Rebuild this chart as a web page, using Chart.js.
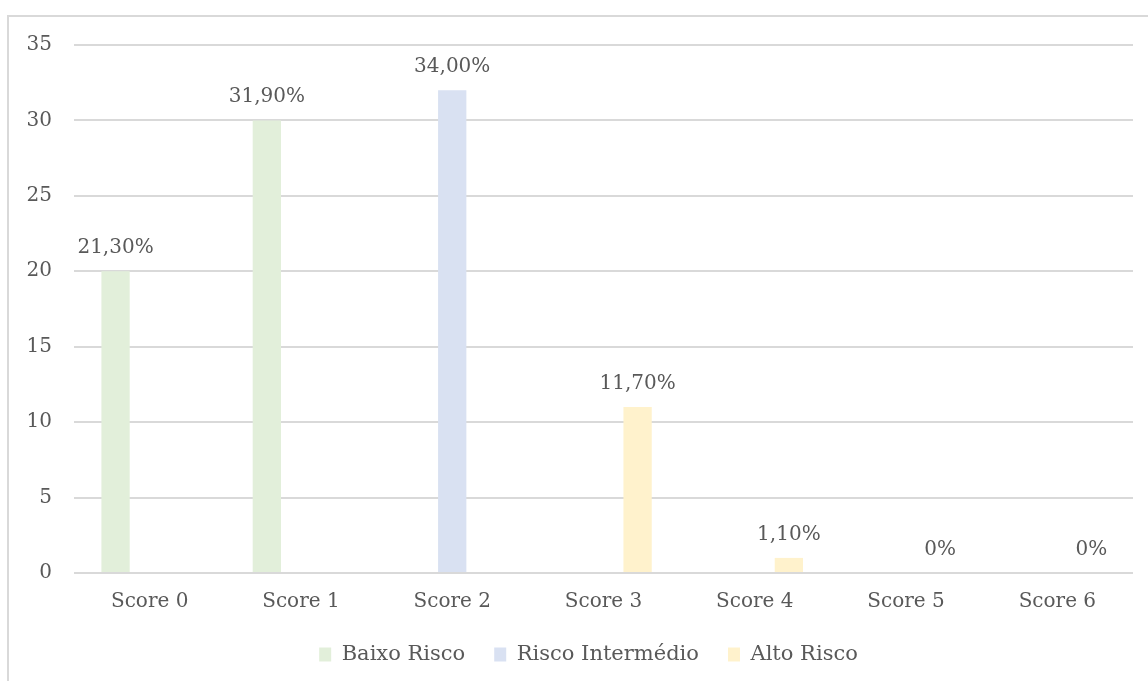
<!DOCTYPE html>
<html>
<head>
<meta charset="utf-8">
<script src="https://cdn.jsdelivr.net/npm/chart.js@4"></script>
<style>
  html, body { margin: 0; padding: 0; background: #fff; overflow: hidden; }
  #frame { position: absolute; left: 7px; top: 15px; width: 1200px; height: 700px;
           border-left: 2px solid #d9d9d9; border-top: 2px solid #d9d9d9; }
  #wrap { position: absolute; left: 0; top: 0; width: 1148px; height: 681px; }
</style>
</head>
<body>
<div id="frame"></div>
<div id="wrap"><canvas id="chart"></canvas></div>
<script>
// categorias e valores
var scores = ['Score 0', 'Score 1', 'Score 2', 'Score 3', 'Score 4', 'Score 5', 'Score 6'];
var baixoRisco = [20, 30, null, null, null, null, null];
var riscoIntermedio = [null, null, 32, null, null, null, null];
var altoRisco = [null, null, null, 11, 1, 0, 0];
var baixoLabels = ['21,30%', '31,90%', null, null, null, null, null];
var intermedioLabels = [null, null, '34,00%', null, null, null, null];
var altoLabels = [null, null, null, '11,70%', '1,10%', '0%', '0%'];
var yTicks = [0, 5, 10, 15, 20, 25, 30, 35];

var fontFam = '"DejaVu Serif", Georgia, serif';
var textColor = '#595959';

var pctLabels = {
	id: 'pctLabels',
	afterLayout: function(chart) {
		// legenda um pouco à direita, como no original
		if (chart.legend) {
			chart.legend.left += 22;
			chart.legend.right += 22;
		}
	},
	afterDatasetsDraw: function(chart) {
		var ctx = chart.ctx;
		ctx.save();
		ctx.font = '20px ' + fontFam;
		ctx.fillStyle = textColor;
		ctx.textAlign = 'center';
		ctx.textBaseline = 'alphabetic';
		chart.data.datasets.forEach(function(ds, i) {
			var meta = chart.getDatasetMeta(i);
			meta.data.forEach(function(bar, j) {
				var txt = ds.pctText[j];
				if (txt == null) return;
				ctx.fillText(txt, bar.x, bar.y - 18);
			});
		});
		ctx.restore();
	}
};

var ctx = document.getElementById('chart');
var myChart = new Chart(ctx,
{
	type: 'bar',
	data:
	{
		labels: scores,
		datasets:
		[
			{ label: 'Baixo Risco', data: baixoRisco, pctText: baixoLabels, backgroundColor: '#e2efda' },
			{ label: 'Risco Intermédio', data: riscoIntermedio, pctText: intermedioLabels, backgroundColor: '#d9e1f2' },
			{ label: 'Alto Risco', data: altoRisco, pctText: altoLabels, backgroundColor: '#fff2cc' }
		]
	},
	options:
	{
		responsive: true,
		maintainAspectRatio: false,
		animation: false,
		datasets: { bar: { categoryPercentage: 0.676, barPercentage: 0.83 } },
		layout: { padding: { left: 0, right: 15, top: 45, bottom: 6 } },
		plugins:
		{
			tooltip: { enabled: false },
			legend:
			{
				position: 'bottom',
				labels:
				{
					color: textColor,
					font: { family: fontFam, size: 21 },
					boxWidth: 12,
					boxHeight: 14,
					padding: 29
				}
			}
		},
		scales:
		{
			x:
			{
				grid: { display: false, drawTicks: false },
				border: { display: false },
				ticks: { color: textColor, font: { family: fontFam, size: 20 }, padding: 17, maxRotation: 0 },
				afterFit: function(scale) { scale.height = 42; }
			},
			y:
			{
				min: 0,
				max: 35,
				afterBuildTicks: function(scale) { scale.ticks = yTicks.map(function(v) { return { value: v }; }); },
				grid: { color: '#d9d9d9', lineWidth: 2, drawTicks: false },
				border: { display: false },
				ticks: { color: textColor, font: { family: fontFam, size: 20 }, padding: 22 },
				afterFit: function(scale) { scale.width = 74; }
			}
		}
	},
	plugins: [pctLabels]
});
</script>
</body>
</html>
